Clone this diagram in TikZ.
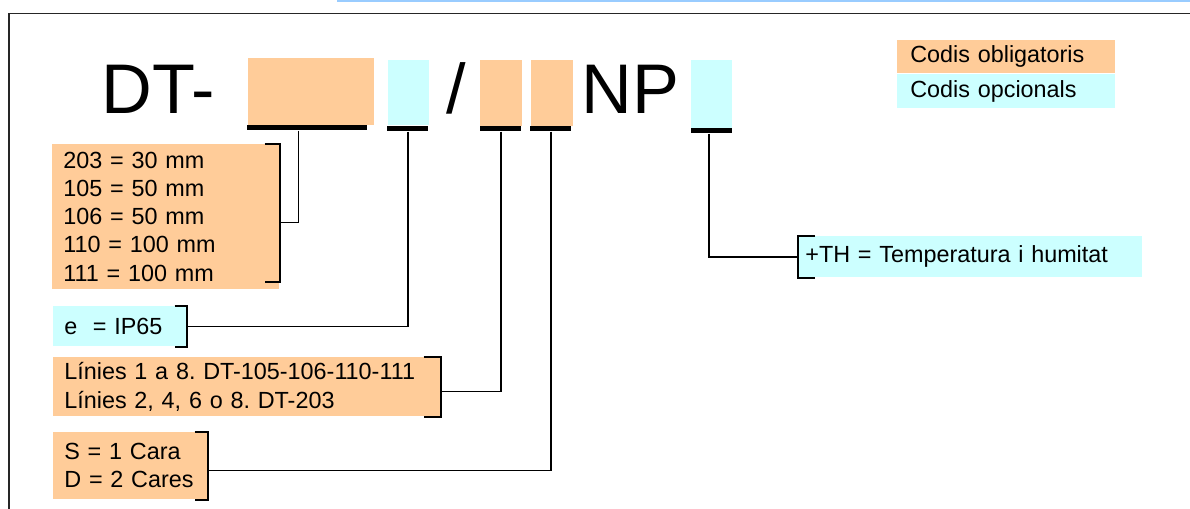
\documentclass[tikz,border=0pt]{standalone}
\usepackage{fontspec}
\setmainfont{Liberation Sans}
\frenchspacing
\usetikzlibrary{positioning}
\definecolor{oblig}{HTML}{FFCC99}
\definecolor{opcio}{HTML}{CCFFFF}
\definecolor{ratlla}{HTML}{99CCFF}
\tikzset{
  slot/.style={anchor=north west, inner sep=0pt},
  bar/.style={fill=black, anchor=north west, inner sep=0pt, minimum height=0.1cm},
  txt/.style={anchor=north west, inner ysep=0pt, inner xsep=0.22cm, align=left, font=\fontsize{13.3}{16}\selectfont},
  big/.style={anchor=base west, inner sep=0pt, font=\fontsize{40}{48}\selectfont},
  conn/.style={line width=0.8pt},
  brk/.style={line width=1.1pt}
}
\begin{document}
\begin{tikzpicture}[x=0.02cm, y=-0.02cm]
\useasboundingbox (0,0) rectangle (1190,509);

\draw [ratlla, line width=1.1pt] (337,1) -- (1190,1);
\draw [black!85, line width=0.9pt] (9,509) -- (9,13.5) -- (1190,13.5);

\node [big] (dt) at (101,114) {DT-};
\node [big] (slash) at (446,114) {/};
\node [big] (np) at (581,114) {NP};

\node [slot, fill=oblig, minimum width=2.52cm, minimum height=1.34cm] (s1) at (248,58) {};
\node [slot, fill=opcio, minimum width=0.82cm, minimum height=1.3cm] (s2) at (388,60) {};
\node [slot, fill=oblig, minimum width=0.84cm, minimum height=1.32cm] (s3) at (480,60) {};
\node [slot, fill=oblig, minimum width=0.84cm, minimum height=1.32cm] (s4) at (531,60) {};
\node [slot, fill=opcio, minimum width=0.82cm, minimum height=1.36cm] (s5) at (691,60) {};

\node [bar, minimum width=2.4cm] (u1) at (247,125) {};
\node [bar, minimum width=0.82cm] (u2) at (387,126) {};
\node [bar, minimum width=0.82cm] (u3) at (480,126) {};
\node [bar, minimum width=0.82cm] (u4) at (530,126) {};
\node [bar, minimum width=0.82cm] (u5) at (691,128) {};

\node [txt, fill=oblig, inner xsep=0.26cm, text width=3.84cm, minimum height=0.66cm] (leg1) at (897,40) {Codis obligatoris};
\node [txt, fill=opcio, inner xsep=0.26cm, text width=3.84cm, minimum height=0.68cm, below=0pt of leg1] (leg2) {Codis opcionals};

\node [txt, fill=oblig, text width=4.1cm, minimum height=2.9cm] (mida) at (52,144) {203 = 30 mm\\105 = 50 mm\\106 = 50 mm\\110 = 100 mm\\111 = 100 mm};
\node [txt, fill=opcio, text width=2.22cm, minimum height=0.8cm] (ip) at (53,306) {e\ \ = IP65};
\node [txt, fill=oblig, text width=7.3cm, minimum height=1.18cm] (linies) at (53,357) {L\'inies 1 a 8. DT-105-106-110-111\\L\'inies 2, 4, 6 o 8. DT-203};
\node [txt, fill=oblig, text width=2.64cm, minimum height=1.34cm] (cares) at (53,432) {S = 1 Cara\\D = 2 Cares};
\node [txt, fill=opcio, inner xsep=0.14cm, text width=6.6cm, minimum height=0.82cm] (th) at (798,236) {+TH = Temperatura i humitat};

\draw [brk] ([xshift=-0.3cm]mida.north east) -- (mida.north east) -- ([yshift=0.16cm]mida.south east) -- ([xshift=-0.3cm, yshift=0.16cm]mida.south east);
\draw [brk] ([xshift=-0.24cm]ip.north east) -- (ip.north east) -- (ip.south east) -- ([xshift=-0.24cm]ip.south east);
\draw [brk] ([xshift=-0.34cm]linies.north east) -- (linies.north east) -- (linies.south east) -- ([xshift=-0.34cm]linies.south east);
\draw [brk] ([xshift=-0.26cm]cares.north east) -- (cares.north east) -- (cares.south east) -- ([xshift=-0.26cm]cares.south east);
\draw [brk] ([xshift=0.34cm]th.north west) -- (th.north west) -- (th.south west) -- ([xshift=0.34cm]th.south west);

\draw [conn] ([xshift=-0.18cm]u1.south) |- ([yshift=-0.11cm]mida.east);
\draw [conn] (u2.south) |- (ip.east);
\draw [conn] (u3.south) |- ([yshift=-0.09cm]linies.east);
\draw [conn] (u4.south) |- ([yshift=-0.09cm]cares.east);
\draw [conn] ([xshift=-0.06cm]u5.south) |- (th.west);
\end{tikzpicture}
\end{document}
